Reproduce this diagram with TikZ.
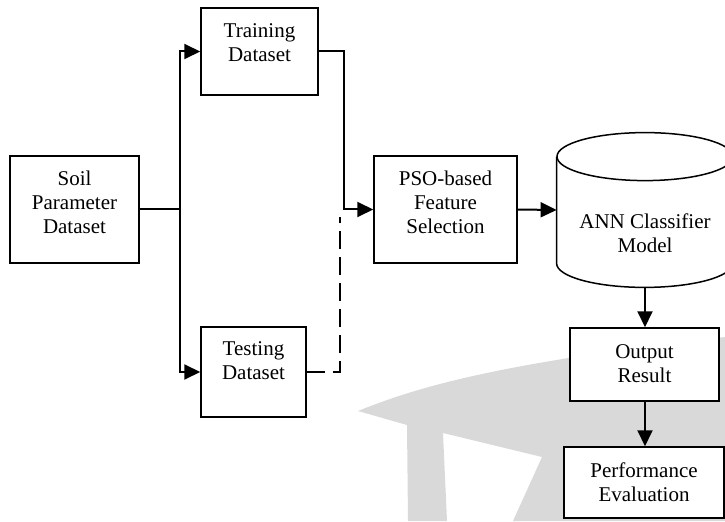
\documentclass[tikz,border=0pt]{standalone}
\usepackage{fontspec}
\setmainfont{Liberation Serif}
\usetikzlibrary{arrows.meta}
\newcommand{\boxtext}[2]{\raisebox{#1}[\height][\depth]{\begin{tabular}{@{}c@{}}#2\end{tabular}}}

\begin{document}
\begin{tikzpicture}[
          x=0.5pt, y=0.5pt,
          every node/.style={inner sep=0pt, font=\fontsize{10.5}{12}\selectfont},
          block/.style={rectangle, draw, fill=white, line width=0.75pt},
          link/.style={draw, ->, line width=1pt},
          dashlink/.style={draw, line width=1pt, dash pattern=on 9pt off 4pt},
          >={Triangle[length=8pt, width=7.5pt]}
        ]
        \useasboundingbox (0,0) rectangle (725,521);
        % watermark
        \fill[gray!30] (358,110) .. controls (420,135) and (500,158) .. (725,184)
          -- (725,0) -- (513,0) -- (542,64) -- (443,88) -- (447,0) -- (408,0)
          -- (407,96) -- cycle;
        % data
        \node[block, minimum width=64.5pt, minimum height=53.5pt] (soil) at (74.5,311.5)
          {\boxtext{2.25pt}{Soil\\Parameter\\Dataset}};
        \node[block, minimum width=58.5pt, minimum height=43.5pt] (train) at (259.5,469.5)
          {\boxtext{3.25pt}{Training\\Dataset}};
        \node[block, minimum width=52.5pt, minimum height=45pt] (test) at (253.5,149)
          {\boxtext{4.75pt}{Testing\\Dataset}};
        % model
        \node[block, minimum width=71.5pt, minimum height=53.5pt] (pso) at (445.5,311.5)
          {\boxtext{2.25pt}{PSO-based\\Feature\\Selection}};
        \node[minimum width=88pt, minimum height=77pt] (ann) at (645,311)
          {\boxtext{-13pt}{ANN Classifier\\Model}};
        \draw[line width=0.75pt] ([yshift=-12pt]ann.north) ellipse [x radius=44pt, y radius=12pt];
        \draw[line width=0.75pt] ([yshift=-12pt]ann.north west) -- ([yshift=12pt]ann.south west)
          arc[start angle=180, end angle=360, x radius=44pt, y radius=12pt]
          -- ([yshift=-12pt]ann.north east);
        % results
        \node[block, minimum width=74.5pt, minimum height=36.5pt] (out) at (644.5,156.5)
          {\boxtext{-0.5pt}{Output\\Result}};
        \node[block, minimum width=80pt, minimum height=35.5pt] (perf) at (644,38.5)
          {\boxtext{-1pt}{Performance\\Evaluation}};
        % links
        \coordinate (split) at (180,311.5);
        \coordinate (bend) at (344,311.5);
        \coordinate (dashtop) at (340,304);
        \draw[line width=1pt] (soil.east) -- (split);
        \draw[link] (split) |- (train.west);
        \draw[link] (split) |- (test.west);
        \draw[link] (train.east) -| (bend) -- (pso.west);
        \draw[dashlink] (test.east) -| (dashtop);
        \draw[link] (pso.east) -- (ann.west);
        \draw[link] (ann.south) -- (ann.south |- out.north);
        \draw[link] (ann.south |- out.south) -- (ann.south |- perf.north);
\end{tikzpicture}
\end{document}
